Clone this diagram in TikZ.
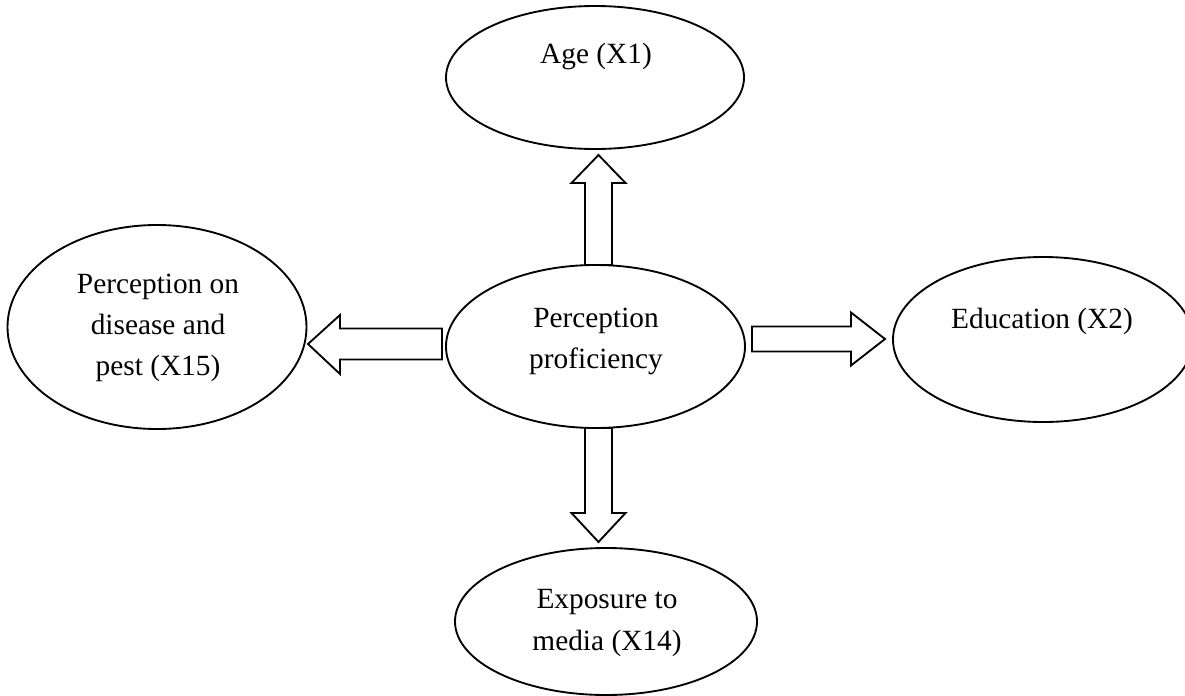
\documentclass[tikz,border=0pt]{standalone}
\usepackage{fontspec}
\setmainfont{Liberation Serif}
\usetikzlibrary{shapes.geometric,calc}
\begin{document}
\begin{tikzpicture}[x=0.75pt,y=-0.75pt,
  bubble/.style={draw,line width=1.4pt,ellipse,inner sep=0pt,outer sep=0pt},
  barrow/.style={draw,line width=1.4pt,line join=miter,fill=white},
  lbl/.style={anchor=base,inner sep=0pt,font=\fontsize{22}{31}\selectfont}]
\useasboundingbox (0,0) rectangle (1185,696);

% ellipses
\node[bubble,minimum width=223.5pt,minimum height=107.25pt]  (age)   at (595,77.5)   {};
\node[bubble,minimum width=224.25pt,minimum height=122.25pt] (ctr)   at (595.5,346.5) {};
\node[bubble,minimum width=224.25pt,minimum height=153pt]    (pest)  at (157,327)    {};
\node[bubble,minimum width=225pt,minimum height=123.75pt]    (edu)   at (1043,339.5) {};
\node[bubble,minimum width=226.5pt,minimum height=110.25pt]  (media) at (606,621.5)  {};

% labels
\node[lbl] (agetext) at (596,63)  {Age (X1)};
\node[lbl] (ctrA)    at (596,327) {Perception};
\node[lbl] (ctrB)    at (596,368) {proficiency};
\node[lbl] (pestA)   at (158,293) {Perception on};
\node[lbl] (pestB)   at (158,334) {disease and};
\node[lbl] (pestC)   at (158,375) {pest (X15)};
\node[lbl] (edutext) at (1042,328) {Education (X2)};
\node[lbl] (mediaA)  at (607,608) {Exposure to};
\node[lbl] (mediaB)  at (607,650) {media (X14)};

% end points of the block arrows
\coordinate (upS)  at ($(ctr.north)+(3,0)$);
\coordinate (upT)  at ($(age.south)+(3.5,6)$);
\coordinate (dnS)  at ($(ctr.south)+(3,0)$);
\coordinate (dnT)  at ($(media.north)+(-7.5,-6)$);
\coordinate (ltS)  at ($(ctr.west)+(-4,-2.5)$);
\coordinate (ltT)  at ($(pest.east)+(1.5,17)$);
\coordinate (rtS)  at ($(ctr.east)+(7,-7.5)$);
\coordinate (rtT)  at ($(edu.west)+(-8,-0.5)$);

% block arrows
\draw[barrow] (upT) -- ($(upT)+(27,28)$) -- ($(upT)+(13.5,28)$) -- ($(upS)+(13.5,0)$)
  -- ($(upS)+(-13.5,0)$) -- ($(upT)+(-13.5,28)$) -- ($(upT)+(-27,28)$) -- cycle;
\draw[barrow] (dnT) -- ($(dnT)+(27,-29)$) -- ($(dnT)+(13.5,-29)$) -- ($(dnS)+(13.5,0)$)
  -- ($(dnS)+(-13.5,0)$) -- ($(dnT)+(-13.5,-29)$) -- ($(dnT)+(-27,-29)$) -- cycle;
\draw[barrow] (ltT) -- ($(ltT)+(32,-29)$) -- ($(ltT)+(32,-15.5)$) -- ($(ltS)+(0,-15.5)$)
  -- ($(ltS)+(0,15.5)$) -- ($(ltT)+(32,15.5)$) -- ($(ltT)+(32,30)$) -- cycle;
\draw[barrow] (rtT) -- ($(rtT)+(-34,-26.5)$) -- ($(rtT)+(-34,-12.5)$) -- ($(rtS)+(0,-12.5)$)
  -- ($(rtS)+(0,12.5)$) -- ($(rtT)+(-34,12.5)$) -- ($(rtT)+(-34,26.5)$) -- cycle;
\end{tikzpicture}
\end{document}
